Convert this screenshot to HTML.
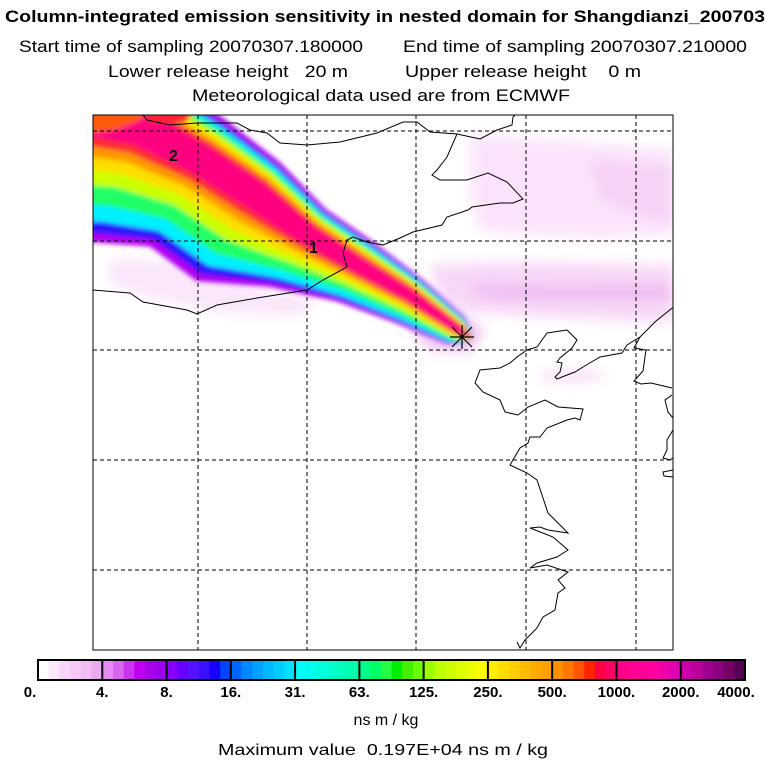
<!DOCTYPE html>
<html><head><meta charset="utf-8"><style>
html,body{margin:0;padding:0;background:#fff;}
svg{display:block;font-family:"Liberation Sans",sans-serif;}
text{white-space:pre;}
</style></head><body>
<svg id="fig" width="768" height="768" viewBox="0 0 768 768" xmlns="http://www.w3.org/2000/svg">
<defs>
<clipPath id="mapclip"><rect x="93" y="115" width="580" height="535"/></clipPath>
<filter id="blur" x="-10%" y="-10%" width="120%" height="120%"><feGaussianBlur stdDeviation="2.5"/></filter>
<filter id="blur2" x="-10%" y="-10%" width="120%" height="120%"><feGaussianBlur stdDeviation="6"/></filter>
</defs>
<g fill="#000">
<text x="5" y="22" font-size="17" font-weight="bold" textLength="760" lengthAdjust="spacingAndGlyphs">Column-integrated emission sensitivity in nested domain for Shangdianzi_200703</text>
<text x="19" y="52" font-size="17" textLength="344" lengthAdjust="spacingAndGlyphs">Start time of sampling 20070307.180000</text>
<text x="403" y="52" font-size="17" textLength="344" lengthAdjust="spacingAndGlyphs">End time of sampling 20070307.210000</text>
<text x="108" y="77" font-size="17" textLength="240" lengthAdjust="spacingAndGlyphs">Lower release height   20 m</text>
<text x="405" y="77" font-size="17" textLength="236" lengthAdjust="spacingAndGlyphs">Upper release height    0 m</text>
<text x="192" y="101" font-size="17" textLength="378" lengthAdjust="spacingAndGlyphs">Meteorological data used are from ECMWF</text>
</g>

<g clip-path="url(#mapclip)">
<g filter="url(#blur2)">
<polygon fill="#fbe4fb" points="470,135 560,140 673,150 673,235 600,238 520,235 480,230 470,200"/>
<polygon fill="#f6d2f6" points="590,160 673,165 673,225 640,215 600,200"/>
<polygon fill="#f7d8f7" points="430,265 520,262 673,265 673,322 560,318 470,312 440,300"/>
<polygon fill="#f0bcf2" points="470,284 560,286 673,285 673,300 560,301 480,298"/>
<polygon fill="#fbe6fb" points="110,258 200,262 260,290 320,298 300,315 220,312 150,298 110,285"/>
<polygon fill="#f8dcf8" points="540,372 590,370 610,376 580,382 545,380"/>
<polygon fill="#f0c4f3" points="420,305 450,308 485,330 470,352 430,350 410,330"/>
</g>
<g id="plume" filter="url(#blur)"></g>
<g stroke="#000" stroke-width="1" stroke-dasharray="4,3" fill="none">
<line x1="198" y1="115" x2="198" y2="650"/><line x1="307" y1="115" x2="307" y2="650"/><line x1="416" y1="115" x2="416" y2="650"/><line x1="526" y1="115" x2="526" y2="650"/><line x1="636" y1="115" x2="636" y2="650"/>
<line x1="93" y1="131" x2="673" y2="131"/><line x1="93" y1="241" x2="673" y2="241"/><line x1="93" y1="350" x2="673" y2="350"/><line x1="93" y1="460" x2="673" y2="460"/><line x1="93" y1="570" x2="673" y2="570"/>
</g>
<g stroke="#000" stroke-width="1" fill="none">
<polyline points="93,290 130,293 143,302 187,310 197,314 217,305 257,298 307,290 323,280 347,267 343,253 347,240 353,237 367,242 383,245 400,238 413,232 442,225 447,217 468,210 472,207 500,203 513,203 523,199 507,182 488,173 467,180 440,180 432,175 437,170 447,157 457,134 430,132 417,122 403,122 377,133 340,142 307,145 280,143 267,133 250,130 237,123 197,123 170,125 147,120 143,115"/>
<polyline points="457,134 480,139 497,130 512,125 513,117 515,115"/>
<polyline points="567,330 577,340 572,348 560,358 557,362 562,363 560,372 555,377 557,379 567,375 575,372 583,367 600,357 622,353 627,345 640,337 656,321 676,305"/>
<polyline points="567,330 547,333 537,347 527,350 517,357 510,363 500,368 480,370 475,383 483,392 500,400 505,412 518,415 528,407 545,400 558,407 583,409 580,420 575,418 567,420 547,428 540,437 530,437 528,443 520,448 510,465 527,473 537,480 548,513 557,522 568,533 548,530 540,527 530,528 553,537 568,550 557,557 537,563 530,568 547,565 568,572 558,580 565,588 558,593 555,610 543,617 537,628 525,640 520,648 517,642"/>
<polyline points="640,337 634,348 646,350 643,371 634,381 641,384 651,383 672,388"/>
<polyline points="672,395 665,400 668,412 673,418"/>
<polyline points="673,430 667,440 667,450 663,458 670,460 673,458"/>
<polyline points="673,470 663,472 664,476 673,477"/>
</g>
<g stroke="#000" stroke-width="1.2">
<line x1="450" y1="337" x2="474" y2="337"/><line x1="462" y1="325" x2="462" y2="349"/>
<line x1="452" y1="327" x2="472" y2="347"/><line x1="452" y1="347" x2="472" y2="327"/>
</g>
<text x="309" y="253" font-size="16" font-weight="bold">1</text>
<text x="169" y="161" font-size="16" font-weight="bold">2</text>
</g>
<rect x="93" y="115" width="580" height="535" fill="none" stroke="#000" stroke-width="1"/>

<g id="colorbar"></g>
<text x="386" y="725" font-size="16" text-anchor="middle">ns m / kg</text>
<text x="218" y="755" font-size="16" textLength="330" lengthAdjust="spacingAndGlyphs">Maximum value  0.197E+04 ns m / kg</text>
</svg>
<script>
const NS="http://www.w3.org/2000/svg";
// plume: centerline with outer half-widths; layers outer->inner
const layerColors=["#b000f0","#2a18ff","#00f0ff","#22ff66","#ccff00","#ffdd00","#ff9900","#ff2a30","#ff0080"];
const upperFrac=[1,0.9,0.82,0.74,0.66,0.58,0.5,0.42,0.33];
const lowerFrac=[1,0.92,0.82,0.68,0.52,0.4,0.3,0.22,0.15];
const centerline=[[50,95],[100,118],[140,127],[200,160],[257,195],[307,235],[357,267],[410,297],[457,330],[468,337]];
const upperW=[55,55,52,48,40,32,30,22,15,6];
const lowerW=[150,135,125,100,105,64,40,30,17,7];
const plume=document.getElementById('plume');
function normals(){
  return centerline.map((p,i)=>{
    const a=centerline[Math.max(0,i-1)], b=centerline[Math.min(centerline.length-1,i+1)];
    let dx=b[0]-a[0], dy=b[1]-a[1]; const L=Math.hypot(dx,dy); dx/=L; dy/=L;
    return [dy,-dx];
  });
}
const nrm=normals();
layerColors.forEach((c,k)=>{
  const up=[],lo=[];
  centerline.forEach((p,i)=>{
    const n=nrm[i];
    up.push([p[0]+n[0]*upperW[i]*upperFrac[k], p[1]+n[1]*upperW[i]*upperFrac[k]]);
    lo.push([p[0]-n[0]*lowerW[i]*lowerFrac[k], p[1]-n[1]*lowerW[i]*lowerFrac[k]]);
  });
  const last=centerline[centerline.length-1];
  const pts=up.concat([[last[0]+4,last[1]+3]]).concat(lo.reverse());
  const pg=document.createElementNS(NS,'polygon');
  
  
  pg.setAttribute('fill',c);
  pg.setAttribute('points',pts.map(p=>p[0].toFixed(1)+','+p[1].toFixed(1)).join(' '));
  plume.appendChild(pg);
});
const corner=document.createElementNS(NS,'polygon');


corner.setAttribute('fill','#ff5a10');
corner.setAttribute('points','85,108 150,108 140,120 115,130 85,134');
plume.appendChild(corner);
const corner2=document.createElementNS(NS,'polygon');


corner2.setAttribute('fill','#ff2030');
corner2.setAttribute('points','140,108 200,108 185,122 150,124');
plume.appendChild(corner2);

const tickLabels = ["0.","4.","8.","16.","31.","63.","125.","250.","500.","1000.","2000.","4000."];
const segColors = [
 ["#ffffff","#fde8fd","#f9d6f9","#f5c8f5","#f0bcf3","#eaaaf0"],
 ["#e68af5","#d966f0","#cc33ee","#c000f0","#a800e8","#9a00ee"],
 ["#8800ff","#6a00ff","#5511ff","#3a10ff","#1800ff","#0044ff"],
 ["#0066ff","#0088ff","#00a0ff","#00b8ff","#00ccff","#00e0ff"],
 ["#00ffff","#00ffee","#00ffdd","#00ffcc","#00ffbb","#00ffaa"],
 ["#00ff88","#00ff66","#22ff44","#00ee00","#44ee00","#66ff00"],
 ["#99ff00","#bbff00","#ccff00","#ddff00","#eeff00","#ffff00"],
 ["#ffee00","#ffdd00","#ffcc00","#ffbb00","#ffaa00","#ffa000"],
 ["#ff9000","#ff7700","#ff5500","#ff2200","#ff0044","#ff0066"],
 ["#ff0088","#ff0090","#ff0099","#ff00a0","#f000a8","#dd00b0"],
 ["#cc00aa","#bb0099","#a00090","#880080","#770066","#550055"]
];
const cb=document.getElementById('colorbar');
const x0=38,x1=745,y0=660,h=20;
const segW=(x1-x0)/segColors.length;
function xPos(i){return x0+i*segW;}
segColors.forEach((cols,i)=>{
  cols.forEach((c,j)=>{
    const r=document.createElementNS(NS,'rect');
    
    
    r.setAttribute('x',xPos(i)+j*segW/cols.length);
    r.setAttribute('y',y0);
    r.setAttribute('width',segW/cols.length+0.5);
    r.setAttribute('height',h);
    r.setAttribute('fill',c);
    cb.appendChild(r);
  });
});
for(let i=0;i<=segColors.length;i++){
  const l=document.createElementNS(NS,'line');
  
  
  l.setAttribute('x1',xPos(i));l.setAttribute('x2',xPos(i));
  l.setAttribute('y1',y0);l.setAttribute('y2',y0+h);
  l.setAttribute('stroke','#000');l.setAttribute('stroke-width','2');
  cb.appendChild(l);
}
const fr=document.createElementNS(NS,'rect');


fr.setAttribute('x',x0);fr.setAttribute('y',y0);fr.setAttribute('width',x1-x0);fr.setAttribute('height',h);
fr.setAttribute('fill','none');fr.setAttribute('stroke','#000');fr.setAttribute('stroke-width','2');
cb.appendChild(fr);
tickLabels.forEach((t,i)=>{
  const tx=document.createElementNS(NS,'text');
  
  
  let cx=xPos(i);
  if(i===0) cx=30;
  if(i===tickLabels.length-1) cx=736;
  tx.setAttribute('x',cx);tx.setAttribute('y',697);
  tx.setAttribute('font-size','15');tx.setAttribute('font-weight','bold');
  tx.setAttribute('text-anchor','middle');
  tx.textContent=t;
  cb.appendChild(tx);
});
</script>
</body></html>
